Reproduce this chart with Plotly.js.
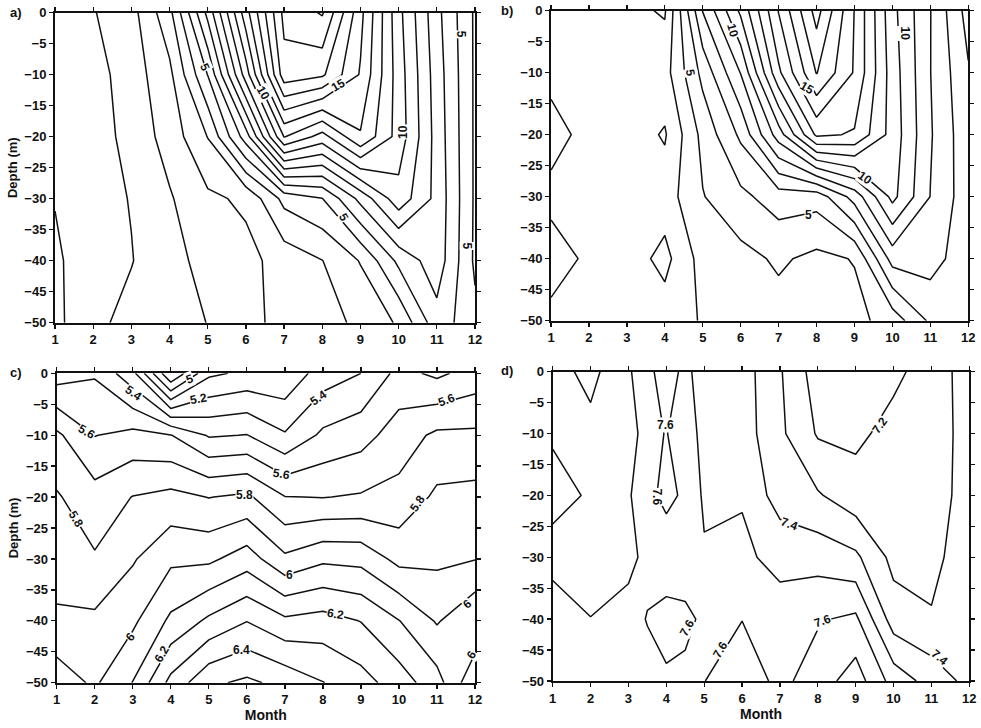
<!DOCTYPE html>
<html>
<head>
<meta charset="utf-8">
<script src="https://cdn.plot.ly/plotly-3.0.1.min.js"></script>
<style>
  html, body { margin: 0; padding: 0; background: #fff; }
  #chart { width: 981px; height: 728px; }
</style>
</head>
<body>
<div id="chart"></div>
<script>
// grid: one row per sampling month, values at depths 0, -10, ..., -50 m
const months = [1, 2, 3, 4, 5, 6, 7, 8, 9, 10, 11, 12];
const monthsD = [1, 2, 3, 3.5, 4, 4.5, 5, 6, 7, 8, 9, 10, 11, 12];
const depths = [0, -10, -20, -30, -40, -50];

// a) temperature, measured
const valuesA = [
  [-0.3, -0.3, -0.2, -0.05, 0.2, 0.1],
  [-0.06, -0.4, -0.5, -0.5, -0.7, -0.3],
  [0.64, 0.5, 0.35, 0.06, -0.05, 0.38],
  [2.7, 1.75, 1.4, 0.9, 0.8, 0.6],
  [7.3, 5.03, 3.03, 1.8, 1.2, 1.02],
  [12.6, 10.5, 6.5, 2.18, 1.7, 1.7],
  [17.3, 16.6, 12.05, 4.3, 2.4, 2.3],
  [18.1, 16.17, 10.6, 4.97, 2.98, 2.6],
  [14.3, 13.9, 12.9, 7.3, 4.06, 3.225],
  [10.3, 10.5, 10.6, 9.62, 6.24, 4.13],
  [7.3, 7.5, 7.6, 7.7, 7.6, 6.6],
  [4.85, 4.85, 4.85, 4.85, 4.82, 5.27]
];

// b) temperature, second series
const valuesB = [
  [2.4, 2.3, 1.6, 2.3, 1.5, 2.3],
  [2.5, 2.5, 2.35, 2.5, 2.2, 2.5],
  [2.25, 2.6, 2.5, 2.6, 2.5, 2.6],
  [1.9, 2.6, 1.9, 2.5, 1.7, 2.5],
  [7.04, 5.3, 4.3, 3.95, 3.4, 3.08],
  [10.2, 8.04, 6.2, 4.75, 3.68, 3.3],
  [14.05, 12.8, 9.5, 5.5, 4.15, 3.6],
  [17.4, 16.05, 13.2, 5.4, 3.75, 3.5],
  [13.97, 13.9, 12.9, 7.4, 4.05, 3.7],
  [10.3, 10.5, 10.6, 10.3, 7.4, 4.42],
  [8.03, 8.02, 8.1, 7.98, 7.42, 6.18],
  [5.6, 6.1, 6.3, 6.4, 6.37, 6.3]
];

// c)
const valuesC = [
  [5.45, 5.72, 5.81, 5.82, 5.93, 6.05],
  [5.49, 5.597, 5.74, 5.81, 5.92, 5.985],
  [5.33, 5.63, 5.803, 5.89, 5.98, 6.103],
  [4.9, 5.603, 5.83, 5.98, 6.12, 6.33],
  [5.18, 5.49, 5.797, 5.98, 6.22, 6.48],
  [5.22, 5.503, 5.82, 6.05, 6.297, 6.52],
  [5.22, 5.41, 5.703, 5.92, 6.22, 6.47],
  [5.35, 5.52, 5.697, 5.98, 6.24, 6.403],
  [5.4, 5.56, 5.71, 5.97, 6.197, 6.34],
  [5.53, 5.65, 5.73, 5.87, 6.103, 6.25],
  [5.48, 5.72, 5.82, 5.88, 5.99, 6.14],
  [5.54, 5.72, 5.83, 5.897, 6.09, 5.92]
];

// d) (rows follow monthsD)
const valuesD = [
  [7.66, 7.68, 7.76, 7.63, 7.55, 7.51],
  [7.73, 7.67, 7.68, 7.65, 7.598, 7.52],
  [7.61, 7.62, 7.605, 7.63, 7.56, 7.52],
  [7.55, 7.58, 7.57, 7.57, 7.605, 7.56],
  [7.69, 7.603, 7.63, 7.53, 7.64, 7.584],
  [7.55, 7.56, 7.58, 7.55, 7.62, 7.58],
  [7.405, 7.463, 7.484, 7.511, 7.584, 7.598],
  [7.447, 7.45, 7.495, 7.513, 7.598, 7.663],
  [7.31, 7.32, 7.35, 7.48, 7.53, 7.573],
  [7.15, 7.19, 7.31, 7.46, 7.59, 7.65],
  [7.12, 7.18, 7.24, 7.42, 7.62, 7.75],
  [7.18, 7.23, 7.25, 7.27, 7.35, 7.56],
  [7.24, 7.22, 7.23, 7.265, 7.31, 7.46],
  [7.35, 7.36, 7.36, 7.37, 7.38, 7.37]
];

// contour levels [start, end, step]
const levelsA = [0, 18, 1];
const levelsB = [2, 18, 1];
const levelsC = [5.0, 6.5, 0.1];
const levelsD = [7.2, 7.7, 0.1];

// contour labels as printed: [text, month, depth, angle]
const labelsA = [
  ["5", 4.93, -8.7, 65], ["10", 6.45, -13, 60], ["15", 8.42, -11.6, -30],
  ["10", 10.12, -19.2, -90], ["5", 8.55, -33, 60], ["5", 11.62, -3.5, 90],
  ["5", 11.8, -37.6, 90]
];
const labelsB = [
  ["10", 5.8, -3.2, 75], ["5", 4.68, -10, 80], ["15", 7.75, -12.5, 30],
  ["10", 10.32, -3.6, 90], ["10", 9.28, -27, 35], ["5", 7.8, -33, 0]
];
const labelsC = [
  ["5", 4.5, -0.9, -20], ["5.4", 3.02, -3.2, 35], ["5.2", 4.72, -4.1, -10],
  ["5.4", 7.88, -4.0, -35], ["5.6", 1.79, -9.5, 30], ["5.6", 6.92, -16.2, 10],
  ["5.6", 11.25, -4.3, -20], ["5.8", 1.5, -23.6, 60], ["5.8", 5.95, -19.7, 0],
  ["5.8", 10.5, -21, -55], ["6", 7.13, -32.6, 0], ["6", 2.93, -42.6, -50],
  ["6", 11.8, -37.3, -40], ["6", 11.9, -45.5, -60], ["6.2", 8.32, -38.9, 10],
  ["6.2", 3.76, -45.3, -60], ["6.4", 5.86, -44.7, 0]
];
const labelsD = [
  ["7.6", 3.97, -8.6, 0], ["7.6", 3.75, -20.3, 90], ["7.6", 4.55, -41.5, -60],
  ["7.6", 5.42, -45, -60], ["7.6", 8.12, -40.3, -20], ["7.4", 7.25, -24.6, 20],
  ["7.4", 11.2, -46.2, 40], ["7.2", 9.64, -8.6, -55]
];

const FONT = "Liberation Sans, Arial, sans-serif";
const INK = "#111";

function toRows(x, cols) {
  // plotly wants z[depthIndex][monthIndex]; use ascending depth
  const ys = depths.slice().reverse();
  const z = ys.map(d => {
    const i = depths.indexOf(d);
    return cols.map(c => c[i]);
  });
  return { x: x, y: ys, z: z };
}

function contour(x, cols, lv, xa, ya) {
  const g = toRows(x, cols);
  return {
    type: "contour",
    x: g.x, y: g.y, z: g.z,
    xaxis: xa, yaxis: ya,
    contours: { coloring: "none", start: lv[0], end: lv[1], size: lv[2], showlabels: false },
    line: { color: INK, width: 1.5, smoothing: 0 },
    showscale: false,
    hoverinfo: "skip"
  };
}

function labelNotes(list, xa, ya) {
  return list.map(l => ({
    x: l[1], y: l[2], xref: xa, yref: ya,
    text: l[0], textangle: l[3],
    showarrow: false, bgcolor: "white", borderpad: 0,
    font: { family: FONT, size: 12, color: INK, weight: "bold" }
  }));
}

const data = [
  contour(months, valuesA, levelsA, "x", "y"),
  contour(months, valuesB, levelsB, "x2", "y2"),
  contour(months, valuesC, levelsC, "x3", "y3"),
  contour(monthsD, valuesD, levelsD, "x4", "y4")
];

const tickFont = { family: FONT, size: 13, color: INK, weight: "bold" };

function xAxis(domain, anchor, title) {
  const ax = {
    domain: domain, anchor: anchor, range: [1, 12],
    tickvals: months, ticks: "outside", ticklen: 4, tickwidth: 1.3, tickcolor: INK,
    showline: true, linecolor: INK, linewidth: 2, mirror: "ticks",
    showgrid: false, zeroline: false,
    tickfont: tickFont
  };
  if (title) ax.title = { text: title, standoff: 3, font: { family: FONT, size: 14, color: INK, weight: "bold" } };
  return ax;
}

function yAxis(domain, anchor, title) {
  const ax = {
    domain: domain, anchor: anchor, range: [-50, 0],
    tickvals: [0, -5, -10, -15, -20, -25, -30, -35, -40, -45, -50],
    ticks: "outside", ticklen: 4, tickwidth: 1.3, tickcolor: INK,
    showline: true, linecolor: INK, linewidth: 2, mirror: "ticks",
    showgrid: false, zeroline: false,
    tickfont: tickFont
  };
  if (title) ax.title = { text: title, standoff: 4, font: { family: FONT, size: 13, color: INK, weight: "bold" } };
  return ax;
}

const panelLetters = [
  ["a)", 0.008, 0.983], ["b)", 0.509, 0.985], ["c)", 0.008, 0.489], ["d)", 0.509, 0.491]
].map(p => ({
  x: p[1], y: p[2], xref: "paper", yref: "paper", xanchor: "left", yanchor: "middle",
  text: p[0], showarrow: false, font: { family: FONT, size: 13, color: INK, weight: "bold" }
}));

const layout = {
  width: 981, height: 728,
  margin: { l: 0, r: 0, t: 0, b: 0 },
  paper_bgcolor: "#fff", plot_bgcolor: "#fff",
  showlegend: false,
  xaxis: xAxis([0.0561, 0.4842], "y"),
  yaxis: yAxis([0.5567, 0.9826], "x", "Depth (m)"),
  xaxis2: xAxis([0.5617, 0.9870], "y2"),
  yaxis2: yAxis([0.5595, 0.9853], "x2"),
  xaxis3: xAxis([0.0578, 0.4842], "y3", "Month"),
  yaxis3: yAxis([0.0622, 0.4872], "x3", "Depth (m)"),
  xaxis4: xAxis([0.5634, 0.9881], "y4", "Month"),
  yaxis4: yAxis([0.0646, 0.4894], "x4"),
  annotations: panelLetters
    .concat(labelNotes(labelsA, "x", "y"))
    .concat(labelNotes(labelsB, "x2", "y2"))
    .concat(labelNotes(labelsC, "x3", "y3"))
    .concat(labelNotes(labelsD, "x4", "y4"))
};

Plotly.newPlot("chart", data, layout, { displayModeBar: false, staticPlot: true });
</script>
</body>
</html>
